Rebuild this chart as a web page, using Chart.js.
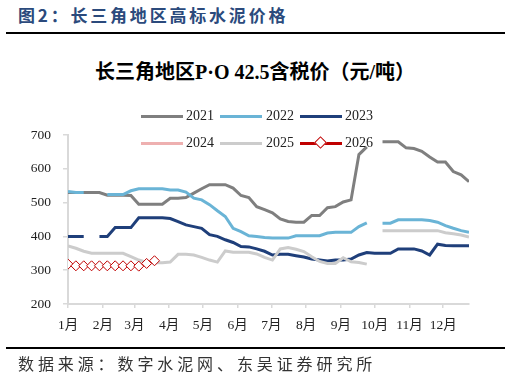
<!DOCTYPE html>
<html lang="zh">
<head>
<meta charset="UTF-8">
<script src="https://cdn.jsdelivr.net/npm/chart.js"></script>
<style>
  body { margin: 0; background: #fff; }
  #wrap { position: relative; width: 510px; height: 381px; overflow: hidden; background: #fff; }
  #wrap canvas { position: absolute; left: 0; top: 0; }
  .hdr { position: absolute; left: 18px; top: 4px; font: bold 17px "Noto Sans CJK SC"; color: #2b4a7c; letter-spacing: 2.8px; white-space: nowrap; line-height: 22px; }
  .rule { position: absolute; left: 6px; width: 499px; height: 2px; background: #000; }
  .title { position: absolute; left: 0; width: 510px; top: 60px; text-align: center; font: bold 20px "Liberation Serif", "Noto Sans CJK SC"; line-height: 24px; color: #000; }
  .src { position: absolute; left: 18px; top: 352px; font: 16px "Noto Sans CJK SC"; letter-spacing: 3.9px; color: #333; white-space: nowrap; line-height: 22px; }
  .lg { position: absolute; font: 14px "Liberation Serif"; line-height: 16px; color: #222; z-index: 2; }
  .sw { position: absolute; width: 42px; height: 3px; z-index: 2; }
  .dia { position: absolute; width: 7px; height: 7px; background: #fff; border: 1px solid #c00000; transform: rotate(45deg); z-index: 3; }
</style>
</head>
<body>
<div id="wrap">
  <div class="hdr">图2：长三角地区高标水泥价格</div>
  <div class="rule" style="top:32px"></div>
  <div class="title">长三角地区P·O 42.5含税价（元/吨）</div>

  <!-- legend row 1 -->
  <div class="sw" style="left:141px; top:115px; background:#7f7f7f"></div>
  <div class="lg" style="left:186px; top:108px">2021</div>
  <div class="sw" style="left:220px; top:115px; background:#6ab4d6"></div>
  <div class="lg" style="left:266px; top:108px">2022</div>
  <div class="sw" style="left:300px; top:115px; background:#1f3f7a"></div>
  <div class="lg" style="left:345px; top:108px">2023</div>
  <!-- legend row 2 -->
  <div class="sw" style="left:141px; top:142px; background:#eeb0b0"></div>
  <div class="lg" style="left:186px; top:135px">2024</div>
  <div class="sw" style="left:220px; top:142px; background:#cccccc"></div>
  <div class="lg" style="left:266px; top:135px">2025</div>
  <div class="sw" style="left:300px; top:142px; background:#c00000"></div>
  <div class="dia" style="left:316px; top:138px"></div>
  <div class="lg" style="left:345px; top:135px">2026</div>

  <canvas id="c" width="510" height="381"></canvas>

  <div class="rule" style="top:347px"></div>
  <div class="src">数据来源：数字水泥网、东吴证券研究所</div>
</div>

<script>
  // weekly prices, index = week of year (0..51); null = no quote that week
  const monthStartDays = [0, 31, 59, 90, 120, 151, 181, 212, 243, 273, 304, 334];
  const monthLabels = ['1月', '2月', '3月', '4月', '5月', '6月', '7月', '8月', '9月', '10月', '11月', '12月'];
  const yTicks = [200, 300, 400, 500, 600, 700];

  const y2021 = [530, 530, 530, 530, 530, 522, 522, 522, 521, 495, 495, 495, 495, 513, 513, 515, 528, 541, 553, 553,
                 553, 543, 521, 515, 488, 479, 470, 452, 444, 442, 442, 462, 462, 485, 488, 502, 508, 642, 665, null,
                 680, 680, 680, 662, 660, 652, 635, 620, 620, 592, 582, 562];
  const y2022 = [533, 530, 530, null, null, 524, 524, 524, 535, 541, 541, 541, 541, 537, 537, 531, 513, 508, 494, 476,
                 459, 424, 414, 402, 400, 397, 395, 395, 395, 402, 402, 402, 402, 410, 412, 412, 412, 429, 440, null,
                 439, 439, 449, 449, 449, 449, 447, 442, 432, 424, 417, 412];
  const y2023 = [400, 400, 400, null, 400, 400, 426, 426, 426, 455, 455, 455, 455, 453, 444, 434, 429, 424, 405, 400,
                 390, 382, 370, 369, 363, 356, 345, 347, 347, 343, 339, 333, 330, 327, 330, 330, 333, 345, 352, 350,
                 350, 350, 363, 363, 363, 357, 345, 377, 373, 372, 372, 372];
  const y2024 = [];
  const y2025 = [372, 365, 356, 350, 350, 350, 350, 350, 340, 330, 323, 322, 322, 324, 347, 347, 345, 338, 330, 324,
                 357, 353, 353, 353, 348, 338, 330, 363, 367, 362, 355, 340, 326, 320, 320, 337, 325, 323, 318, null,
                 417, 417, 417, 417, 417, 417, 417, 417, 411, 408, 404, 398];
  const y2026 = [318, 313, 313, 313, 313, 313, 313, 313, 313, 312, 320, 328];

  const pts = vals => vals.map((v, i) => ({ x: i, y: v }));
  const serif = 'Liberation Serif, Noto Sans CJK SC';

  function line(label, vals, color, order) {
    return {
      label: label,
      data: pts(vals),
      borderColor: color,
      backgroundColor: color,
      borderWidth: 3,
      pointRadius: 0,
      tension: 0,
      spanGaps: false,
      order: order
    };
  }

  const datasets = [
    line('2021', y2021, '#7f7f7f', 6),
    line('2022', y2022, '#6ab4d6', 5),
    line('2023', y2023, '#1f3f7a', 4),
    line('2024', y2024, '#eeb0b0', 3),
    line('2025', y2025, '#cccccc', 2),
    {
      label: '2026',
      data: pts(y2026),
      borderColor: '#c00000',
      borderWidth: 2,
      pointStyle: 'rectRot',
      pointRadius: 5,
      pointBorderWidth: 1,
      pointBorderColor: '#c00000',
      pointBackgroundColor: '#fff',
      tension: 0,
      order: 1
    }
  ];

  new Chart(document.getElementById('c'), {
    type: 'line',
    data: { datasets: datasets },
    options: {
      responsive: false,
      animation: false,
      devicePixelRatio: 1,
      layout: { padding: { top: 135, right: 41, bottom: 0, left: 0 } },
      plugins: { legend: { display: false }, tooltip: { enabled: false } },
      scales: {
        x: {
          type: 'linear',
          min: 0,
          max: 51,
          afterBuildTicks: s => { s.ticks = monthStartDays.map(d => ({ value: d / 7 })); },
          afterFit: s => { s.height = 77; },
          ticks: {
            autoSkip: false,
            maxRotation: 0,
            padding: 9,
            color: '#222',
            font: { family: serif, size: 13.5 },
            callback: (v, i) => monthLabels[i]
          },
          grid: { drawOnChartArea: false, tickLength: 4, color: '#d9d9d9', lineWidth: 1.5 },
          border: { color: '#d9d9d9', width: 2 }
        },
        y: {
          min: 200,
          max: 700,
          afterBuildTicks: s => { s.ticks = yTicks.map(v => ({ value: v })); },
          afterFit: s => { s.width = 68; },
          ticks: {
            padding: 12,
            color: '#222',
            font: { family: serif, size: 13.5 }
          },
          grid: { drawOnChartArea: false, tickLength: 5, color: '#d9d9d9', lineWidth: 1.5 },
          border: { color: '#d9d9d9', width: 2 }
        }
      }
    }
  });
</script>
</body>
</html>
